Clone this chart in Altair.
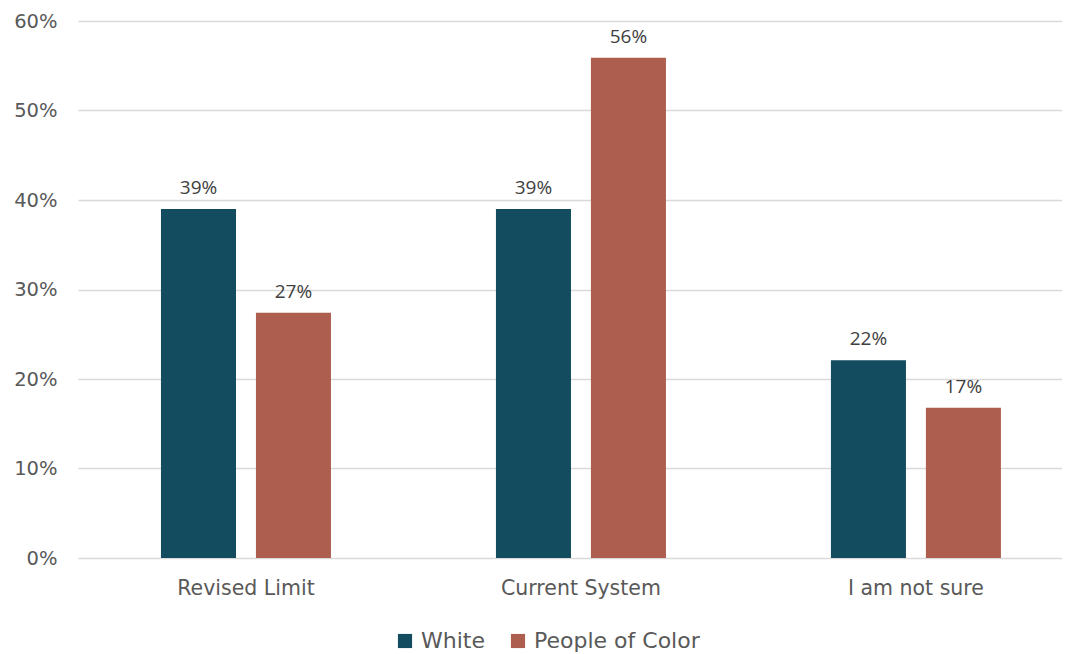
import altair as alt
import pandas as pd

categories = ["Revised Limit", "Current System", "I am not sure"]
groups = ["White", "People of Color"]
white_vals = [0.39, 0.39, 0.221]
poc_vals = [0.274, 0.559, 0.168]
y_ticks = [0, 0.1, 0.2, 0.3, 0.4, 0.5, 0.6]
colors = ["#134B5F", "#AE5E4E"]

rows = []
for c, w, p in zip(categories, white_vals, poc_vals):
    rows.append({"category": c, "group": groups[0], "value": w})
    rows.append({"category": c, "group": groups[1], "value": p})
df = pd.DataFrame(rows)

FONT = "DejaVu Sans"

x = alt.X("category:N", sort=categories, title=None,
          scale=alt.Scale(paddingInner=0.4925, paddingOuter=0.215, align=0.576),
          axis=alt.Axis(labelAngle=0, labelFontSize=20.5, labelColor="#595959",
                        labelFont=FONT, ticks=False, domain=False, labelPadding=20))
xo = alt.XOffset("group:N", sort=groups, scale=alt.Scale(paddingInner=0.21, paddingOuter=0))
y = alt.Y("value:Q", title=None,
          scale=alt.Scale(domain=[0, 0.6], nice=False),
          axis=alt.Axis(values=y_ticks, format=".0%", labelFontSize=19.5, labelColor="#595959",
                        labelFont=FONT, ticks=False, domain=False, labelPadding=21,
                        gridColor="#D9D9D9", gridWidth=1.5))

bars = alt.Chart(df).mark_bar().encode(
    x=x, xOffset=xo, y=y,
    color=alt.Color("group:N", sort=groups,
                    scale=alt.Scale(domain=groups, range=colors),
                    legend=alt.Legend(title=None, orient="none", direction="horizontal",
                                      legendX=316, legendY=609, symbolType="square",
                                      symbolSize=200, labelFontSize=22, labelColor="#595959",
                                      labelFont=FONT, columnPadding=22, labelOffset=5,
                                      labelLimit=400, symbolStrokeWidth=0)),
)

labels = alt.Chart(df).mark_text(baseline="bottom", dy=-11, fontSize=19, color="#404040",
                                 font="Open Sans").encode(
    x=alt.X("category:N", sort=categories),
    xOffset=alt.XOffset("group:N", sort=groups),
    y="value:Q",
    text=alt.Text("value:Q", format=".0%"),
)

chart = (bars + labels).properties(
    width=984, height=537,
    autosize=alt.AutoSizeParams(type="none"),
    padding={"left": 70, "top": 13, "right": 0, "bottom": 96},
).configure_view(stroke=None).configure_axis(labelFont=FONT)

chart.save("out.html", embed_options={"renderer": "svg", "actions": False})
